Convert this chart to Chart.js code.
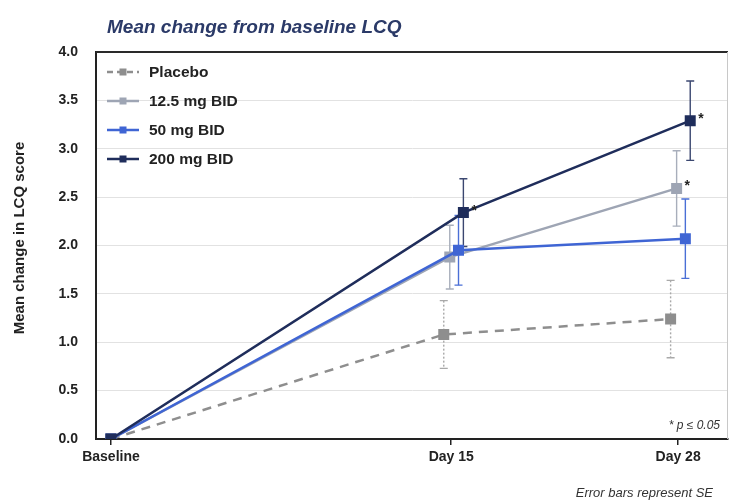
<!DOCTYPE html>
<html><head><meta charset="utf-8">
<script src="https://cdn.jsdelivr.net/npm/chart.js@4.4.1/dist/chart.umd.min.js"></script>
<style>html,body{margin:0;padding:0;background:#fff}#wrap{width:730px;height:504px;position:relative}</style>
</head><body><div id="wrap"><canvas id="c" width="730" height="504"></canvas></div>
<script>
// ---- data ----
const categories = ['Baseline', 'Day 15', 'Day 28'];
const seriesNames = ['Placebo', '12.5 mg BID', '50 mg BID', '200 mg BID'];
const placebo = [0, 1.08, 1.24];
const mg12_5 = [0, 1.88, 2.59];
const mg50 = [0, 1.95, 2.07];
const mg200 = [0, 2.34, 3.29];
const sePlacebo = [0, 0.35, 0.40];
const se12_5 = [0, 0.33, 0.39];
const se50 = [0, 0.36, 0.41];
const se200 = [0, 0.35, 0.41];
const sigPlacebo = [false, false, false];
const sig12_5 = [false, false, true];
const sig50 = [false, false, false];
const sig200 = [false, true, true];
const yTicks = [0, 0.5, 1.0, 1.5, 2.0, 2.5, 3.0, 3.5, 4.0];

// ---- layout / style ----
const slotOf = [0, 3, 5];           // category spacing on the x axis
const dodge = [-0.066, -0.013, 0.064, 0.107];
const colors = ['#8e8e8e', '#9ea5b4', '#3f65d4', '#1f2d5b'];
const errColors = ['#a9a9a9', '#a8aebb', '#4a6fd6', '#3b4770'];
const values = [placebo, mg12_5, mg50, mg200];
const ses = [sePlacebo, se12_5, se50, se200];
const sigs = [sigPlacebo, sig12_5, sig50, sig200];

const datasets = seriesNames.map((name, i) => ({
  label: name,
  data: values[i].map((v, k) => ({ x: slotOf[k] + (k > 0 ? dodge[i] : 0), y: v })),
  borderColor: colors[i],
  backgroundColor: colors[i],
  pointBackgroundColor: colors[i],
  pointBorderColor: colors[i],
  borderWidth: 2.5,
  borderDash: i === 0 ? [9, 7] : [],
  pointStyle: 'rect',
  pointRadius: 6,
  pointHoverRadius: 6,
  tension: 0,
  order: 3 - i
}));

const FONT = 'Arial, "Liberation Sans", sans-serif';

const extras = {
  id: 'extras',
  beforeDatasetsDraw(chart) {
    const ctx = chart.ctx, xs = chart.scales.x, ys = chart.scales.y;
    ctx.save();
    seriesNames.forEach((n, i) => {
      chart.data.datasets[i].data.forEach((p, k) => {
        const se = ses[i][k];
        if (!se) return;
        const px = xs.getPixelForValue(p.x);
        const top = ys.getPixelForValue(p.y + se), bot = ys.getPixelForValue(p.y - se);
        ctx.strokeStyle = errColors[i];
        ctx.lineWidth = 1.4;
        ctx.setLineDash(i === 0 ? [2, 2] : []);
        ctx.beginPath(); ctx.moveTo(px, top); ctx.lineTo(px, bot); ctx.stroke();
        ctx.setLineDash([]);
        ctx.beginPath();
        ctx.moveTo(px - 4, top); ctx.lineTo(px + 4, top);
        ctx.moveTo(px - 4, bot); ctx.lineTo(px + 4, bot);
        ctx.stroke();
      });
    });
    ctx.restore();
  },
  afterDraw(chart) {
    const ctx = chart.ctx, xs = chart.scales.x, ys = chart.scales.y, a = chart.chartArea;
    ctx.save();
    // frame
    ctx.strokeStyle = '#2a2a2a'; ctx.lineWidth = 2;
    ctx.beginPath(); ctx.moveTo(a.left, a.top); ctx.lineTo(a.right, a.top); ctx.stroke();
    ctx.strokeStyle = '#c8c8c8'; ctx.lineWidth = 1;
    ctx.beginPath(); ctx.moveTo(a.right - 0.5, a.top); ctx.lineTo(a.right - 0.5, a.bottom); ctx.stroke();
    // title
    ctx.fillStyle = '#2b3a68';
    ctx.font = 'italic bold 19px ' + FONT;
    ctx.textBaseline = 'alphabetic'; ctx.textAlign = 'left';
    ctx.fillText('Mean change from baseline LCQ', 107, 33);
    // y axis title
    ctx.save();
    ctx.translate(20, 238);
    ctx.rotate(-Math.PI / 2);
    ctx.fillStyle = '#222';
    ctx.font = 'bold 15px ' + FONT;
    ctx.textAlign = 'center'; ctx.textBaseline = 'middle';
    ctx.fillText('Mean change in LCQ score', 0, 0);
    ctx.restore();
    // asterisks
    ctx.fillStyle = '#222';
    ctx.textAlign = 'left'; ctx.textBaseline = 'alphabetic';
    ctx.font = 'bold 14px ' + FONT;
    seriesNames.forEach((n, i) => {
      chart.data.datasets[i].data.forEach((p, k) => {
        if (!sigs[i][k]) return;
        const px = xs.getPixelForValue(p.x), py = ys.getPixelForValue(p.y);
        ctx.fillText('*', px + 8, py + 2);
      });
    });
    // legend
    const ly = [72, 101, 130, 159];
    seriesNames.forEach((n, i) => {
      const y = ly[i];
      ctx.strokeStyle = colors[i]; ctx.lineWidth = 2.5;
      ctx.setLineDash(i === 0 ? [6, 4] : []);
      ctx.beginPath(); ctx.moveTo(107, y); ctx.lineTo(139, y); ctx.stroke();
      ctx.setLineDash([]);
      ctx.fillStyle = colors[i];
      ctx.fillRect(123 - 3.5, y - 3.5, 7, 7);
      ctx.fillStyle = '#222';
      ctx.font = 'bold 15.5px ' + FONT;
      ctx.textBaseline = 'middle';
      ctx.fillText(n, 149, y + 1);
    });
    // footnotes
    ctx.fillStyle = '#333';
    ctx.textAlign = 'right';
    ctx.textBaseline = 'alphabetic';
    ctx.font = 'italic 12px ' + FONT;
    ctx.fillText('* p \u2264 0.05', 720, 429);
    ctx.font = 'italic 13px ' + FONT;
    ctx.fillText('Error bars represent SE', 713, 497);
    ctx.restore();
  }
};

new Chart(document.getElementById('c'), {
  type: 'line',
  data: { datasets },
  plugins: [extras],
  options: {
    responsive: false,
    animation: false,
    devicePixelRatio: 1,
    layout: { autoPadding: false, padding: { top: 52, right: 2, bottom: 0, left: 0 } },
    plugins: { legend: { display: false }, tooltip: { enabled: false }, title: { display: false } },
    scales: {
      x: {
        type: 'linear',
        min: -0.132, max: 5.44,
        afterFit(s) { s.height = 65; s.paddingLeft = 0; s.paddingRight = 0; },
        afterBuildTicks(s) { s.ticks = slotOf.map(v => ({ value: v })); },
        ticks: {
          callback: (v) => categories[slotOf.indexOf(v)],
          color: '#222', font: { family: FONT, size: 14, weight: 'bold' }, padding: 4, maxRotation: 0, autoSkip: false
        },
        grid: { drawOnChartArea: false, drawTicks: true, tickLength: 6, color: '#222', lineWidth: 1.5 },
        border: { display: true, color: '#222', width: 2 }
      },
      y: {
        min: 0, max: 4,
        afterFit(s) { s.width = 96; s.paddingTop = 0; s.paddingBottom = 0; },
        afterBuildTicks(s) { s.ticks = yTicks.map(v => ({ value: v })); },
        ticks: {
          callback: (v) => v.toFixed(1),
          color: '#222', font: { family: FONT, size: 14, weight: 'bold' }, padding: 18
        },
        grid: { color: '#e2e2e2', lineWidth: 1, drawTicks: false },
        border: { display: true, color: '#222', width: 2 },
        title: { display: false }
      }
    }
  }
});
</script></body></html>
